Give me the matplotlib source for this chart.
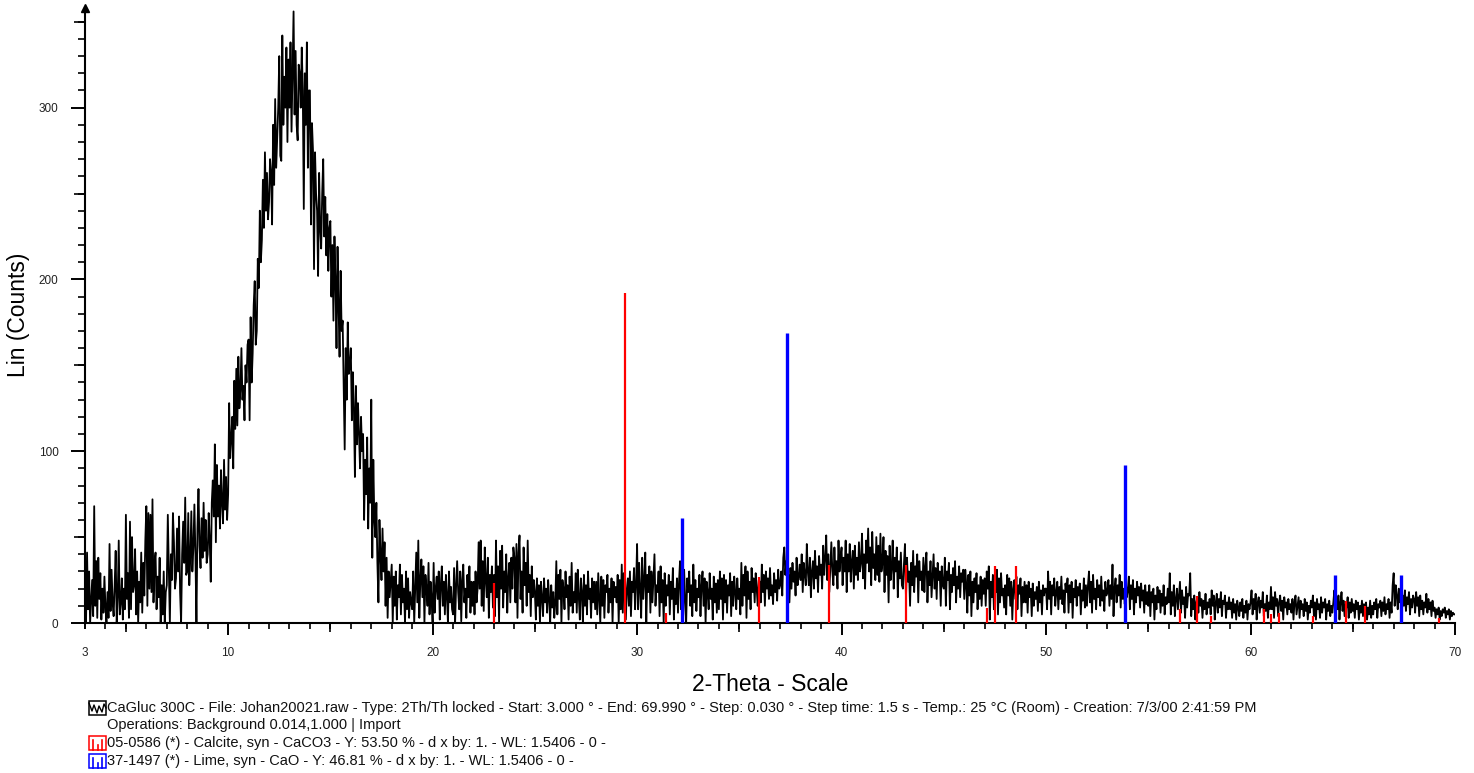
import numpy as np
import matplotlib
matplotlib.use('Agg')
import matplotlib.pyplot as plt
from matplotlib.patches import Rectangle
from matplotlib.lines import Line2D

plt.rcParams['font.family'] = ['Liberation Sans', 'DejaVu Sans']

# scan: 2-theta from 3.00 to 70.00, every 0.05 degree
two_theta_start = 3.0
two_theta_step = 0.05
counts_rows = [
    [15, 0, 41, 8, 30, 0, 12, 25, 4, 68, 10, 36, 3, 38, 14, 29, 2, 20, 6, 27],                  # 3
    [9, 0, 18, 3, 46, 7, 31, 12, 4, 22, 42, 0, 15, 48, 5, 12, 26, 2, 20, 8],                    # 4
    [63, 14, 29, 3, 59, 8, 50, 18, 22, 43, 5, 30, 0, 24, 12, 41, 6, 35, 16, 48],                # 5
    [68, 10, 64, 20, 63, 18, 72, 12, 35, 41, 8, 27, 15, 38, 0, 22, 5, 30, 0, 18],               # 6
    [22, 63, 30, 0, 40, 25, 64, 47, 20, 26, 55, 30, 62, 18, 0, 40, 59, 35, 73, 28],             # 7
    [30, 64, 22, 38, 65, 30, 44, 69, 40, 0, 55, 78, 45, 32, 61, 38, 70, 42, 60, 35],            # 8
    [40, 64, 48, 24, 70, 83, 62, 104, 47, 92, 62, 80, 55, 89, 70, 58, 95, 66, 85, 60],          # 9
    [75, 128, 96, 107, 120, 90, 141, 113, 148, 115, 155, 125, 135, 160, 130, 138, 118, 150, 140, 162],  # 10
    [165, 118, 178, 140, 157, 185, 199, 162, 170, 212, 195, 240, 210, 223, 258, 230, 274, 240, 262, 235],  # 11
    [245, 270, 262, 232, 290, 255, 305, 265, 282, 300, 330, 272, 269, 342, 290, 318, 300, 335, 280, 328],  # 12
    [300, 338, 286, 320, 356, 296, 333, 290, 281, 325, 320, 300, 335, 310, 241, 320, 290, 338, 265, 310],  # 13
    [310, 232, 291, 275, 206, 274, 250, 240, 202, 262, 230, 218, 250, 270, 225, 248, 214, 238, 205, 230],  # 14
    [234, 190, 220, 176, 225, 200, 160, 219, 185, 155, 205, 170, 176, 140, 101, 160, 130, 175, 145, 150],  # 15
    [160, 118, 146, 125, 85, 138, 104, 128, 110, 90, 120, 100, 110, 60, 95, 75, 108, 55, 90, 70],  # 16
    [130, 38, 95, 60, 50, 70, 35, 12, 60, 40, 25, 55, 30, 47, 10, 38, 3, 30, 15, 25],           # 17
    [34, 0, 27, 10, 30, 2, 22, 15, 34, 5, 28, 12, 20, 0, 30, 8, 26, 3, 18, 12],                 # 18
    [8, 30, 0, 20, 41, 12, 48, 3, 25, 37, 15, 33, 0, 28, 20, 10, 35, 5, 24, 14],                # 19
    [0, 35, 6, 20, 27, 14, 30, 2, 22, 33, 10, 24, 5, 28, 16, 0, 30, 12, 21, 8],                 # 20
    [5, 32, 0, 22, 36, 18, 8, 30, 1, 25, 34, 12, 20, 3, 28, 15, 33, 6, 24, 10],                 # 21
    [24, 5, 30, 12, 20, 47, 20, 48, 10, 36, 7, 44, 25, 15, 38, 3, 28, 18, 33, 9],               # 22
    [28, 4, 48, 15, 33, 0, 42, 20, 45, 9, 30, 18, 40, 6, 26, 35, 12, 38, 20, 44],               # 23
    [38, 12, 46, 3, 41, 51, 14, 30, 6, 44, 22, 35, 10, 48, 18, 28, 4, 33, 15, 25],              # 24
    [18, 2, 26, 10, 22, 0, 24, 15, 4, 26, 12, 20, 6, 25, 14, 0, 22, 9, 18, 3],                  # 25
    [12, 36, 5, 28, 14, 31, 0, 25, 20, 8, 30, 15, 22, 2, 27, 10, 35, 6, 18, 12],                # 26
    [29, 6, 31, 15, 2, 26, 18, 0, 28, 10, 22, 5, 30, 14, 20, 3, 26, 12, 24, 8],                 # 27
    [24, 5, 29, 14, 0, 27, 10, 25, 3, 22, 18, 28, 6, 20, 12, 26, 0, 24, 15, 21],                # 28
    [12, 28, 0, 25, 8, 34, 6, 29, 15, 2, 20, 26, 10, 30, 4, 24, 18, 32, 8, 22],                 # 29
    [46, 8, 35, 20, 3, 38, 14, 24, 41, 0, 28, 18, 33, 6, 30, 12, 26, 40, 10, 22],               # 30
    [18, 30, 4, 33, 12, 25, 0, 29, 10, 22, 16, 28, 5, 24, 14, 32, 2, 20, 11, 26],               # 31
    [6, 24, 36, 8, 28, 2, 31, 14, 0, 26, 18, 30, 10, 22, 4, 34, 12, 25, 7, 20],                 # 32
    [15, 28, 4, 22, 30, 10, 26, 0, 24, 18, 8, 29, 14, 20, 2, 27, 12, 23, 6, 25],                # 33
    [8, 30, 14, 26, 2, 28, 12, 25, 6, 22, 16, 29, 4, 24, 10, 27, 18, 8, 26, 14],                # 34
    [20, 5, 35, 10, 28, 16, 33, 3, 30, 14, 24, 8, 32, 18, 26, 12, 29, 20, 10, 25],              # 35
    [24, 12, 34, 18, 28, 10, 30, 20, 26, 14, 32, 16, 22, 11, 29, 18, 25, 13, 31, 20],           # 36
    [22, 30, 16, 38, 44, 28, 36, 18, 28, 12, 32, 20, 35, 24, 30, 16, 38, 22, 27, 34],           # 37
    [25, 40, 18, 35, 28, 22, 46, 30, 22, 38, 15, 30, 36, 20, 42, 26, 33, 18, 39, 28],           # 38
    [34, 20, 45, 28, 38, 51, 25, 40, 18, 33, 47, 30, 22, 44, 28, 36, 20, 48, 30, 38],           # 39
    [44, 22, 38, 30, 48, 18, 40, 30, 46, 24, 36, 42, 20, 45, 28, 38, 25, 47, 30, 35],           # 40
    [52, 26, 40, 20, 48, 35, 55, 30, 44, 22, 53, 32, 40, 25, 50, 28, 45, 24, 52, 30],           # 41
    [35, 50, 18, 42, 28, 39, 12, 45, 25, 32, 48, 20, 38, 30, 44, 15, 36, 26, 41, 22],           # 42
    [20, 34, 46, 14, 38, 24, 30, 10, 35, 22, 42, 18, 33, 27, 40, 12, 36, 25, 30, 19],           # 43
    [38, 18, 33, 41, 12, 30, 22, 36, 15, 28, 40, 20, 32, 14, 35, 25, 30, 10, 33, 22],           # 44
    [20, 38, 10, 30, 25, 35, 8, 28, 18, 32, 22, 36, 12, 27, 20, 33, 15, 29, 24, 31],            # 45
    [14, 31, 22, 6, 28, 16, 30, 4, 24, 12, 26, 18, 29, 8, 22, 14, 27, 10, 25, 17],              # 46
    [26, 10, 30, 20, 33, 2, 24, 15, 28, 8, 22, 18, 31, 5, 26, 12, 29, 16, 20, 9],               # 47
    [22, 5, 28, 16, 26, 10, 24, 2, 20, 25, 14, 27, 8, 22, 17, 26, 4, 21, 12, 24],               # 48
    [12, 22, 6, 24, 15, 20, 4, 23, 10, 18, 14, 21, 7, 24, 12, 19, 5, 22, 16, 20],               # 49
    [20, 8, 30, 14, 24, 5, 22, 16, 26, 10, 18, 24, 8, 21, 14, 27, 11, 19, 6, 23],               # 50
    [18, 26, 6, 22, 12, 24, 3, 20, 15, 25, 10, 21, 16, 23, 5, 19, 13, 26, 9, 22],               # 51
    [10, 22, 30, 12, 24, 6, 28, 14, 20, 8, 25, 15, 22, 10, 27, 13, 19, 7, 24, 16],              # 52
    [18, 25, 10, 22, 14, 34, 4, 20, 26, 12, 22, 16, 28, 9, 24, 14, 20, 11, 25, 15],             # 53
    [19, 27, 8, 22, 14, 25, 5, 20, 12, 24, 16, 21, 9, 23, 13, 19, 6, 22, 11, 18],               # 54
    [10, 22, 4, 18, 12, 20, 2, 16, 8, 21, 12, 19, 6, 17, 10, 22, 5, 15, 11, 20],                # 55
    [12, 29, 5, 18, 10, 22, 4, 14, 20, 8, 16, 24, 6, 19, 11, 15, 3, 21, 9, 17],                 # 56
    [16, 29, 4, 14, 8, 16, 2, 12, 15, 6, 18, 10, 14, 3, 13, 8, 17, 5, 12, 9],                   # 57
    [14, 5, 19, 10, 16, 2, 12, 17, 6, 14, 9, 18, 4, 13, 11, 16, 3, 12, 8, 15],                  # 58
    [8, 12, 3, 14, 6, 11, 2, 13, 9, 4, 12, 7, 14, 3, 10, 6, 13, 2, 11, 8],                      # 59
    [12, 19, 5, 14, 8, 17, 2, 12, 15, 6, 13, 9, 18, 4, 11, 7, 16, 3, 12, 8],                    # 60
    [21, 8, 15, 3, 18, 10, 14, 4, 12, 16, 7, 13, 2, 15, 9, 12, 5, 14, 8, 11],                   # 61
    [6, 14, 2, 12, 16, 5, 10, 15, 3, 13, 8, 11, 4, 14, 7, 12, 2, 10, 6, 13],                    # 62
    [9, 16, 4, 12, 2, 14, 8, 11, 3, 15, 6, 12, 9, 14, 2, 11, 7, 13, 4, 10],                     # 63
    [6, 12, 19, 5, 14, 8, 16, 2, 12, 18, 7, 13, 4, 11, 9, 15, 3, 12, 6, 14],                    # 64
    [7, 11, 3, 13, 8, 12, 2, 10, 6, 13, 4, 11, 7, 12, 2, 9, 5, 13, 3, 10],                      # 65
    [5, 12, 8, 14, 3, 11, 9, 13, 4, 12, 7, 15, 5, 11, 8, 14, 3, 12, 6, 22],                     # 66
    [29, 10, 22, 16, 8, 20, 12, 18, 6, 16, 10, 19, 7, 15, 11, 18, 5, 14, 9, 16],                # 67
    [14, 6, 18, 10, 15, 4, 16, 8, 13, 5, 12, 9, 17, 6, 14, 8, 12, 4, 13, 7],                    # 68
    [9, 3, 8, 5, 9, 2, 7, 4, 8, 6, 9, 3, 7, 5, 8, 2, 7, 4, 6, 5],                               # 69
    [5],                                                                                        # 70
]

# reference patterns (stick positions / heights in counts)
calcite_pos = [23.02, 29.40, 31.42, 35.97, 39.40, 43.15, 47.10, 47.49, 48.51,
               56.57, 57.40, 58.09, 60.67, 61.02, 61.39, 63.06, 64.67, 65.62, 69.20]
calcite_h = [23, 192, 6, 27, 34, 34, 9, 33, 33,
             8, 16, 4, 8, 5, 6, 4, 13, 10, 3]
lime_pos = [32.20, 37.35, 53.85, 64.15, 67.37]
lime_h = [61, 169, 92, 28, 28]

x_ticks = [3, 10, 20, 30, 40, 50, 60, 70]
y_ticks = [0, 100, 200, 300]

legend_lines = [
    "CaGluc 300C - File: Johan20021.raw - Type: 2Th/Th locked - Start: 3.000 \u00b0 - End: 69.990 \u00b0 - "
    "Step: 0.030 \u00b0 - Step time: 1.5 s - Temp.: 25 \u00b0C (Room) - Creation: 7/3/00 2:41:59 PM",
    "Operations: Background 0.014,1.000 | Import",
    "05-0586 (*) - Calcite, syn - CaCO3 - Y: 53.50 % - d x by: 1. - WL: 1.5406 - 0 -",
    "37-1497 (*) - Lime, syn - CaO - Y: 46.81 % - d x by: 1. - WL: 1.5406 - 0 -",
]

counts = np.concatenate([np.array(r, dtype=float) for r in counts_rows])
two_theta = two_theta_start + two_theta_step * np.arange(len(counts))

W, H = 1474, 773
fig = plt.figure(figsize=(W / 100, H / 100), dpi=100)
ax = fig.add_axes([85 / W, 1 - 623 / H, (1455 - 85) / W, (623 - 8) / H])

ax.plot(two_theta, counts, color='black', lw=1.3, zorder=2)
ax.vlines(calcite_pos, 0, calcite_h, colors='#ff0000', lw=1.6, zorder=3)
ax.vlines(lime_pos, 0, lime_h, colors='#0000ff', lw=2.4, zorder=3)

ax.set_xlim(3, 70)
ax.set_ylim(0, 358)

for s in ['top', 'right']:
    ax.spines[s].set_visible(False)
for s in ['left', 'bottom']:
    ax.spines[s].set_linewidth(1.5)

ax.set_xticks(x_ticks)
ax.set_xticks(np.arange(3, 71, 1), minor=True)
ax.set_yticks(y_ticks)
ax.set_yticks(np.arange(0, 360, 10), minor=True)
ax.tick_params(axis='x', which='major', length=8.6, width=1.4, pad=9,
               labelsize=8.5, labelcolor='#222222')
ax.tick_params(axis='x', which='minor', length=4.3, width=1.2)
ax.tick_params(axis='y', which='major', length=10, width=1.4, pad=9,
               labelsize=8.5, labelcolor='#222222')
ax.tick_params(axis='y', which='minor', length=5, width=1.2)
ax.set_xticklabels([str(t) for t in x_ticks])
ax.set_yticklabels([str(t) for t in y_ticks])
# the "3" tick is only a short one
ax.xaxis.get_major_ticks()[0].tick1line.set_markersize(4.3)

# medium ticks at 5s and 50s
secx = ax.secondary_xaxis('bottom')
secx.set_xticks(np.arange(5, 70, 10))
secx.tick_params(length=6.5, width=1.2, labelbottom=False)
secx.spines['bottom'].set_visible(False)
secy = ax.secondary_yaxis('left')
secy.set_yticks(np.arange(50, 360, 100))
secy.tick_params(length=8, width=1.2, labelleft=False)
secy.spines['left'].set_visible(False)

# small arrow head on top of the y axis
ax.plot([3], [358], marker='^', color='black', ms=6, clip_on=False, zorder=4)

ax.set_xlabel('2-Theta - Scale', fontsize=16.5, labelpad=10)
ax.set_ylabel('Lin (Counts)', fontsize=16.5, va='center')
ax.yaxis.set_label_coords((19 - 85) / 1370, (623 - 315) / 615)

# legend block below the chart
line_y = [708, 725, 743, 761]
for txt, yy in zip(legend_lines, line_y):
    fig.text(107 / W, 1 - yy / H, txt, fontsize=10.5, va='center', ha='left', color='#111111')

def icon_box(yc, color):
    x0, w, h = 89, 17, 14
    fig.patches.append(Rectangle((x0 / W, 1 - (yc + h / 2) / H), w / W, h / H,
                                 transform=fig.transFigure, fill=False,
                                 edgecolor=color, lw=1.1))
    return x0, w, h

x0, w, h = icon_box(line_y[0], 'black')
zx = np.array([0, 3, 5, 8, 10, 13, 15, 17]) + x0
zy = np.array([1, 9, 3, 11, 4, 10, 2, 6]) + line_y[0] - 6
fig.lines.append(Line2D(zx / W, 1 - zy / H, transform=fig.transFigure,
                        color='black', lw=1.0))
for yc, col in [(line_y[2], '#ff0000'), (line_y[3], '#0000ff')]:
    x0, w, h = icon_box(yc, col)
    for sx, sh in [(4, 10), (9, 5), (13, 10)]:
        fig.lines.append(Line2D([(x0 + sx) / W] * 2,
                                [1 - (yc + h / 2) / H, 1 - (yc + h / 2 - sh) / H],
                                transform=fig.transFigure, color=col, lw=1.2))

plt.savefig('out.png', dpi=100)
